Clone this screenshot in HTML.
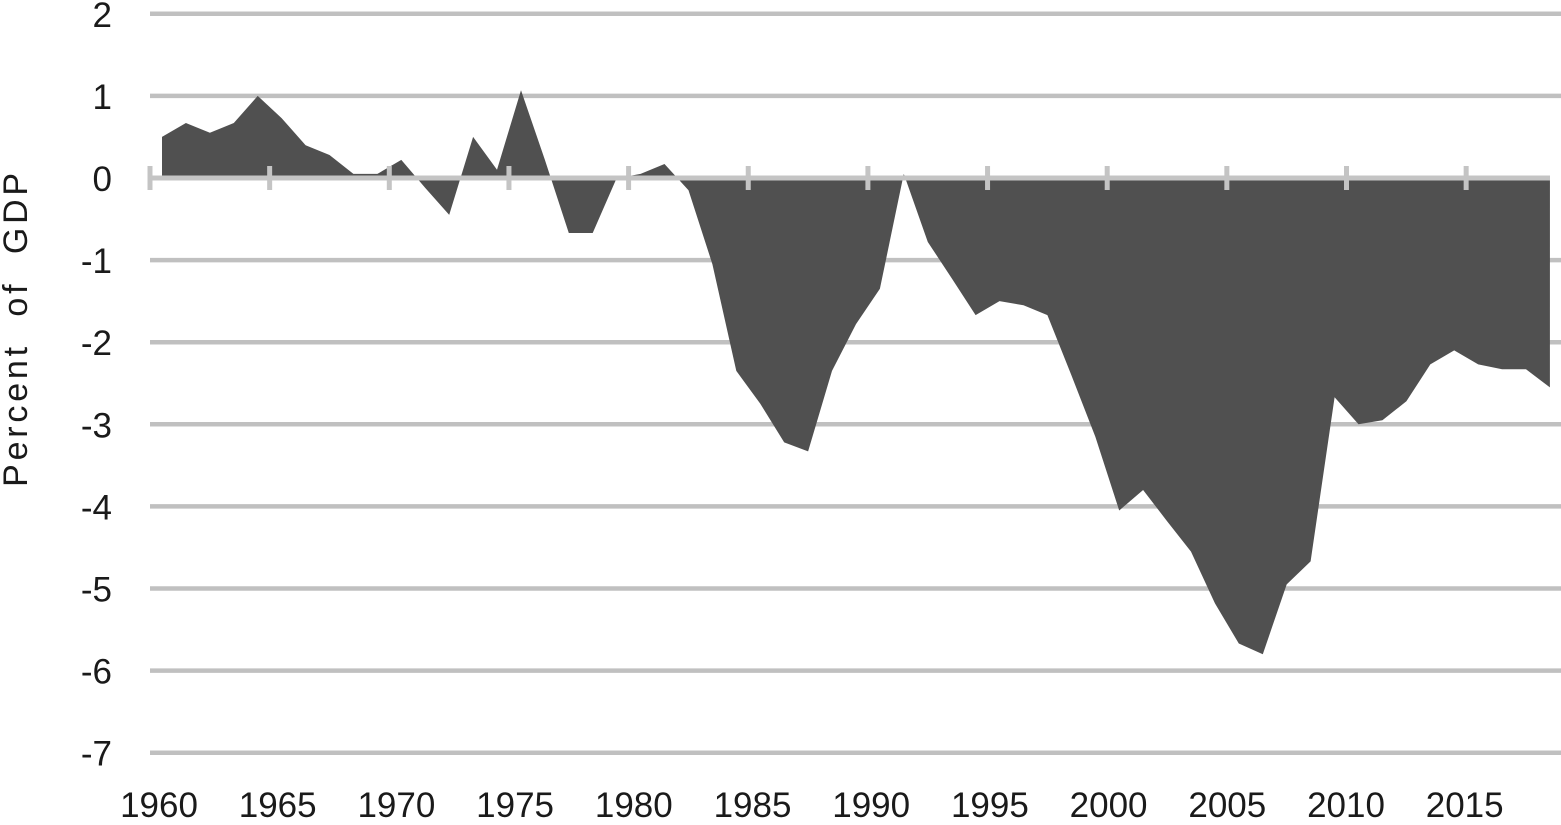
<!DOCTYPE html><html><head><style>body{margin:0;background:#fff}svg text{font-family:"Liberation Sans",sans-serif;fill:#1a1a1a}</style></head><body>
<svg width="1561" height="820" xmlns="http://www.w3.org/2000/svg">
<g stroke="#c0c0c0" stroke-width="4.5" id="g"></g>
<g id="yl" font-size="35" text-anchor="end"></g>
<g id="xl" font-size="35" text-anchor="middle"></g>
<text transform="translate(27,328) rotate(-90)" font-size="34" text-anchor="middle" letter-spacing="3.8" xml:space="preserve" style="white-space:pre">Percent  of  GDP</text>
<path id="a" fill="#505050"/>
<g id="ax" stroke="#c4c4c4"></g>
<script>
var ns="http://www.w3.org/2000/svg";
function Y(v){return 178-v*82.1}
var g=document.getElementById('g'),yl=document.getElementById('yl'),xl=document.getElementById('xl'),ax=document.getElementById('ax');
for(var v=2;v>=-7;v--){if(v!=0){var l=document.createElementNS(ns,'line');l.setAttribute('x1',150);l.setAttribute('x2',1561);l.setAttribute('y1',Y(v));l.setAttribute('y2',Y(v));g.appendChild(l);}
var t=document.createElementNS(ns,'text');t.setAttribute('x',112);t.setAttribute('y',Y(v)+13);t.textContent=v;yl.appendChild(t);}
var d=[0.5,0.67,0.55,0.67,1.0,0.73,0.4,0.28,0.05,0.05,0.22,-0.12,-0.45,0.5,0.1,1.07,0.22,-0.67,-0.67,0.0,0.05,0.17,-0.15,-1.05,-2.35,-2.75,-3.22,-3.33,-2.35,-1.78,-1.35,0.05,-0.78,-1.22,-1.67,-1.5,-1.55,-1.67,-2.4,-3.15,-4.05,-3.8,-4.18,-4.55,-5.18,-5.67,-5.8,-4.95,-4.67,-2.67,-3.0,-2.95,-2.72,-2.27,-2.1,-2.27,-2.33,-2.33,-2.55];
function X(i){return 162+i*23.93}
var p='M'+X(0)+','+Y(0);d.forEach(function(v,i){p+=' L'+X(i).toFixed(1)+','+Y(v).toFixed(1)});p+=' L'+X(d.length-1)+','+Y(0)+'Z';
document.getElementById('a').setAttribute('d',p);
var l=document.createElementNS(ns,'line');l.setAttribute('x1',150);l.setAttribute('x2',1550);l.setAttribute('y1',178);l.setAttribute('y2',178);l.setAttribute('stroke-width',5);ax.appendChild(l);
for(var k=0;k<12;k++){var x=150+k*119.65;var m=document.createElementNS(ns,'line');m.setAttribute('x1',x);m.setAttribute('x2',x);m.setAttribute('y1',166);m.setAttribute('y2',190);m.setAttribute('stroke-width',5);ax.appendChild(m);
var t=document.createElementNS(ns,'text');t.setAttribute('x',159+k*118.7);t.setAttribute('y',817);t.textContent=1960+5*k;xl.appendChild(t);}
</script>
</svg></body></html>
